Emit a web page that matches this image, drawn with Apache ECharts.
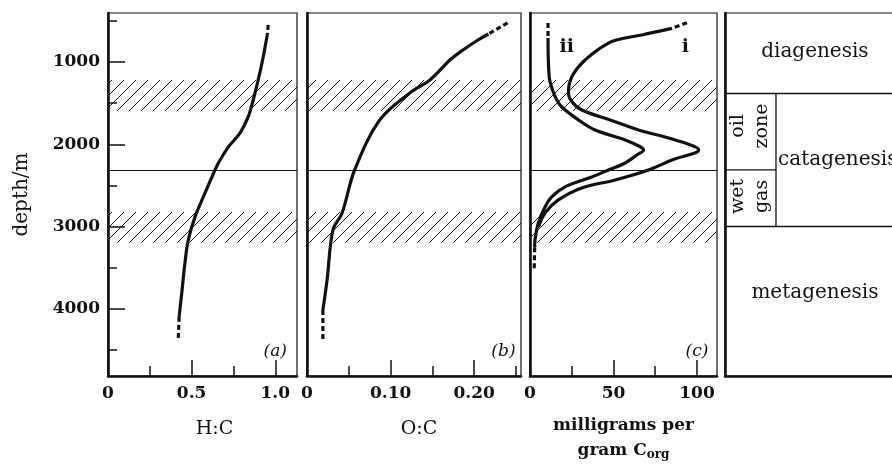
<!DOCTYPE html>
<html>
<head>
<meta charset="utf-8">
<script src="https://cdn.jsdelivr.net/npm/echarts@6/dist/echarts.min.js"></script>
<style>html,body{margin:0;background:#fff}#main{width:892px;height:467px}</style>
</head>
<body>
<div id="main"></div>
<script>
'use strict'
// depth (m) and values
var hcDepth=[550,672,939,1219,1462,1668,1862,2032,2227,2312,2640,2883,3162,3441,3769,4097,4377];
var hcRatio=[0.958,0.952,0.928,0.898,0.868,0.838,0.79,0.72,0.66,0.64,0.57,0.52,0.48,0.46,0.443,0.425,0.42];

var ocDepth=[526,660,730,880,976,1219,1376,1704,2312,2834,3041,3650,4012,4377];
var ocRatio=[0.240,0.217,0.205,0.183,0.171,0.147,0.123,0.087,0.057,0.042,0.031,0.024,0.019,0.019];

var iDepth=[523,592,672,708,770,976,1182,1375,1480,1583,1704,1826,1947,2069,2190,2312,2433,2530,2676,2834,3004];
var iYield=[94,85,67,57,47,33,25,23,25,31,48,65,87,101,85,71,51,31,17,9,5];

var iiDepth=[526,710,1180,1340,1460,1547,1704,1826,1947,2030,2069,2130,2227,2312,2397,2518,2640,2761,2956,3160,3250,3530];
var iiYield=[10.8,10.8,11.5,13.5,16,19,29,39,57,66,68,64,57,47,37,21,13,9,5,3,2.8,2.5];

var depthMajor=[1000,2000,3000,4000];
var depthMinor=[500,1500,2500,3500,4500];
var hcMajor=[0,0.5,1.0], hcMinor=[0.25,0.75];
var ocMajor=[0,0.10,0.20], ocMinor=[0.05,0.15,0.25];
var ycMajor=[0,50,100], ycMinor=[25,75];

var hatchBands=[[1219,1595],[2822,3195]];
var oilBase=2312;
var diagBase=1376, cataBase=2992;

var SERIF='"DejaVu Serif", "Liberation Serif", serif';
var INK='#111';

window.onload=function (){
	var myChart=echarts.init(document.getElementById('main'));

	// diagonal hatch tile
	var tile=document.createElement('canvas');
	tile.width=tile.height=12;
	var g=tile.getContext('2d');
	g.strokeStyle='#1a1a1a';
	g.lineWidth=1;
	g.beginPath();
	g.moveTo(-2,14);g.lineTo(14,-2);
	g.moveTo(-2,2);g.lineTo(2,-2);
	g.moveTo(10,14);g.lineTo(14,10);
	g.stroke();
	var hatch={image:tile,repeat:'repeat'};

	function seg(d,v,a,b){
		var out=[];
		for(var i=a;i<=b;i++)out.push([v[i],d[i]]);
		return out;
	}
	function line(data,xi,yi,dashed,extra){
		var s={type:'line',xAxisIndex:xi,yAxisIndex:yi,data:data,symbol:'none',smooth:dashed?false:0.35,
			lineStyle:{color:INK,width:3.2,type:dashed?[5,3]:'solid'},z:5};
		for(var k in extra)s[k]=extra[k];
		return s;
	}
	var bandMarks={
		markArea:{silent:true,itemStyle:{color:hatch},data:hatchBands.map(function(b){return [{yAxis:b[0]},{yAxis:b[1]}];})},
		markLine:{silent:true,symbol:'none',label:{show:false},lineStyle:{color:INK,width:1,type:'solid'},data:[{yAxis:oilBase}]}
	};

	function depthAxis(grid){
		return {type:'value',gridIndex:grid,inverse:true,min:405,max:4815,position:'left',
			axisLine:{show:true,lineStyle:{color:INK,width:2.6}},axisTick:{show:false},
			axisLabel:{show:false},splitLine:{show:false}};
	}
	function valAxis(grid,max,major,fmt,name,pad,bold){
		return {type:'value',gridIndex:grid,min:0,max:max,position:'bottom',
			axisLine:{show:true,lineStyle:{color:INK,width:2.6}},
			axisTick:{show:true,inside:true,length:16,customValues:major,lineStyle:{color:INK,width:1.5}},
			axisLabel:{show:true,customValues:major,formatter:fmt,margin:9,
				fontFamily:SERIF,fontWeight:'bold',fontSize:17,color:INK},
			splitLine:{show:false},
			name:name,nameLocation:'middle',nameGap:bold?37:40,
			nameTextStyle:{fontFamily:SERIF,fontSize:bold?17:19,fontWeight:bold?'bold':'normal',color:INK,lineHeight:bold?25:26,padding:pad||0,
				rich:{sub:{fontFamily:SERIF,fontSize:12,fontWeight:'bold',color:INK,verticalAlign:'bottom',padding:[0,0,2,0]}}}};
	}
	function minorAxis(grid,max,minor){
		return {type:'value',gridIndex:grid,min:0,max:max,position:'bottom',
			axisLine:{show:false},
			axisTick:{show:true,inside:true,length:10,customValues:minor,lineStyle:{color:INK,width:1.5}},
			axisLabel:{show:false},splitLine:{show:false}};
	}
	var gridStyle={show:true,borderColor:INK,borderWidth:1.2,top:13,bottom:91,outerBoundsMode:'none',containLabel:false};

	var yMain=depthAxis(0);
	yMain.axisTick={show:true,inside:true,length:17,customValues:depthMajor,lineStyle:{color:INK,width:1.5}};
	yMain.axisLabel={show:true,customValues:depthMajor,margin:8,formatter:function(v){return String(v);},
		fontFamily:SERIF,fontWeight:'bold',fontSize:17,color:INK};
	yMain.name='depth/m';
	yMain.nameLocation='middle';
	yMain.nameGap=76;
	yMain.nameTextStyle={fontFamily:SERIF,fontSize:20,color:INK};
	var yMinor=depthAxis(0);
	yMinor.axisLine={show:false};
	yMinor.axisTick={show:true,inside:true,length:9,customValues:depthMinor,lineStyle:{color:INK,width:1.5}};

	var dAxisY=depthAxis(3);
	var dAxisX={type:'value',gridIndex:3,min:0,max:1,position:'bottom',
		axisLine:{show:true,lineStyle:{color:INK,width:2.6}},axisTick:{show:false},axisLabel:{show:false},splitLine:{show:false}};
	var colX=0.288;

	var textSeries=function(xi,yi,items,font){
		return {type:'scatter',xAxisIndex:xi,yAxisIndex:yi,symbolSize:0,itemStyle:{color:INK},z:6,silent:true,
			data:items.map(function(t){
				return {value:[t[0],t[1]],label:{show:true,position:'inside',formatter:t[2],rotate:t[3]||0,align:t[4]||'center',
					fontFamily:SERIF,fontSize:font.size,fontWeight:font.weight||'normal',fontStyle:font.style||'normal',
					color:INK,textBorderWidth:0,opacity:1}};
			})};
	};

	var option={
		animation:false,
		grid:[
			Object.assign({left:108,right:595},gridStyle),
			Object.assign({left:307,right:371},gridStyle),
			Object.assign({left:530,right:175},gridStyle),
			Object.assign({left:725,right:-10},gridStyle)
		],
		xAxis:[
			valAxis(0,1.13,hcMajor,function(v){return v===0?'0':v.toFixed(1);},'H:C',[0,0,0,24]),
			minorAxis(0,1.13,hcMinor),
			valAxis(1,0.256,ocMajor,function(v){return v===0?'0':v.toFixed(2);},'O:C',[0,0,0,10]),
			minorAxis(1,0.256,ocMinor),
			valAxis(2,112,ycMajor,function(v){return String(v);},'milligrams per\ngram C{sub|org}',0,true),
			minorAxis(2,112,ycMinor),
			dAxisX
		],
		yAxis:[yMain,yMinor,depthAxis(1),depthAxis(2),dAxisY],
		series:[
			line(seg(hcDepth,hcRatio,1,hcDepth.length-2),0,0,false,bandMarks),
			line(seg(hcDepth,hcRatio,0,1),0,0,true),
			line(seg(hcDepth,hcRatio,hcDepth.length-2,hcDepth.length-1),0,0,true),

			line(seg(ocDepth,ocRatio,1,ocDepth.length-2),2,2,false,bandMarks),
			line(seg(ocDepth,ocRatio,0,1),2,2,true),
			line(seg(ocDepth,ocRatio,ocDepth.length-2,ocDepth.length-1),2,2,true),

			line(seg(iiDepth,iiYield,1,iiDepth.length-2),4,3,false,bandMarks),
			line(seg(iiDepth,iiYield,0,1),4,3,true),
			line(seg(iiDepth,iiYield,iiDepth.length-2,iiDepth.length-1),4,3,true),
			line(seg(iDepth,iYield,1,iDepth.length-1),4,3,false),
			line(seg(iDepth,iYield,0,1),4,3,true),

			// zone boundaries
			{type:'line',xAxisIndex:6,yAxisIndex:4,symbol:'none',lineStyle:{color:INK,width:1.3},
				data:[[colX,diagBase],[colX,cataBase]],
				markLine:{silent:true,symbol:'none',label:{show:false},lineStyle:{color:INK,width:1.3,type:'solid'},
					data:[{yAxis:diagBase},{yAxis:cataBase}]}},
			{type:'line',xAxisIndex:6,yAxisIndex:4,symbol:'none',lineStyle:{color:INK,width:1.3},
				data:[[0,oilBase],[colX,oilBase]]},

			textSeries(0,0,[[1.0,4522,'(a)']],{size:17,style:'italic'}),
			textSeries(2,2,[[0.235,4522,'(b)']],{size:17,style:'italic'}),
			textSeries(4,3,[[100,4522,'(c)']],{size:17,style:'italic'}),
			textSeries(4,3,[[22,818,'ii'],[93,818,'i']],{size:19,weight:'bold'}),
			textSeries(6,4,[
				[0.508,879,'diagenesis'],
				[0.508,3806,'metagenesis'],
				[0.30,2190,'catagenesis',0,'left']
			],{size:20}),
			textSeries(6,4,[
				[0.075,1777,'oil',90],[0.21,1777,'zone',90],
				[0.075,2634,'wet',90],[0.21,2634,'gas',90]
			],{size:19})
		]
	};
	myChart.setOption(option);
};
</script>
</body>
</html>
